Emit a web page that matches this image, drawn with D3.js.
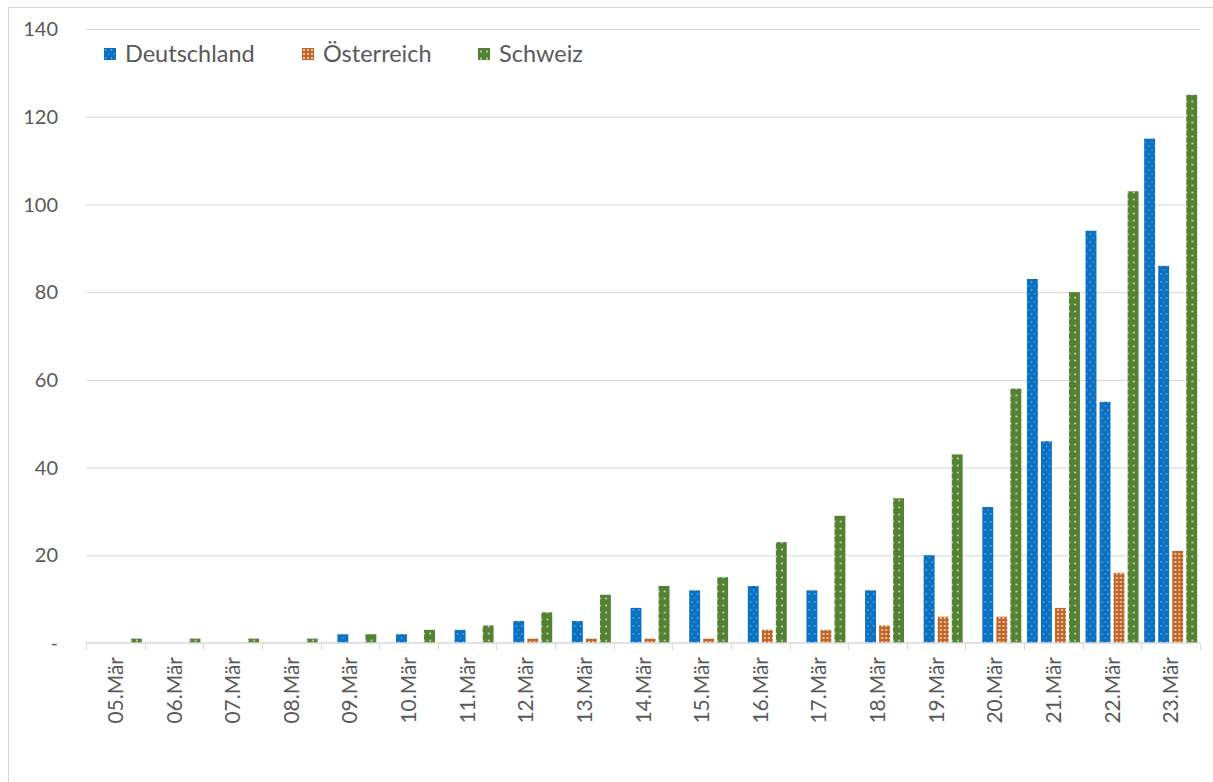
<!DOCTYPE html>
<html>
  <head>
    <meta charset="utf-8" />
    <title>Fälle nach Tag</title>
    <script src="https://d3js.org/d3.v7.min.js"></script>
    <style>
      body { margin: 0; background: #fff; }
      text { font-family: Lato, "Liberation Sans", sans-serif; fill: #595959; }
      .grid line { stroke: #d9d9d9; }
    </style>
  </head>
  <body>
    <svg id="chart" width="1213" height="782"></svg>
    <script>
      // Data
      const categories = ['05.Mär', '06.Mär', '07.Mär', '08.Mär', '09.Mär', '10.Mär', '11.Mär', '12.Mär', '13.Mär', '14.Mär',
                          '15.Mär', '16.Mär', '17.Mär', '18.Mär', '19.Mär', '20.Mär', '21.Mär', '22.Mär', '23.Mär'];
      const seriesNames = ['', 'Deutschland', 'Österreich', 'Schweiz'];
      // first series has no legend entry, only values for the last days
      const extra = [null, null, null, null, null, null, null, null, null, null, null, null, null, null, null, null, 83, 94, 115];
      const deutschland = [0, 0, 0, 0, 2, 2, 3, 5, 5, 8, 12, 13, 12, 12, 20, 31, 46, 55, 86];
      const oesterreich = [0, 0, 0, 0, 0, 0, 0, 1, 1, 1, 1, 3, 3, 4, 6, 6, 8, 16, 21];
      const schweiz = [1, 1, 1, 1, 2, 3, 4, 7, 11, 13, 15, 23, 29, 33, 43, 58, 80, 103, 125];
      const yTicks = [0, 20, 40, 60, 80, 100, 120, 140];

      const values = [extra, deutschland, oesterreich, schweiz];
      const patterns = ['pBlue', 'pBlue', 'pOrange', 'pGreen'];

      const width = 1213, height = 782;
      const margin = { top: 29, right: 13, bottom: 139, left: 86 };

      const svg = d3.select('#chart');

      // fill patterns
      const defs = svg.append('defs');
      const blue = defs.append('pattern').attr('id', 'pBlue').attr('patternUnits', 'userSpaceOnUse')
        .attr('width', 6).attr('height', 8);
      blue.append('rect').attr('width', 6).attr('height', 8).attr('fill', '#0a70c2');
      blue.append('circle').attr('cx', 1.5).attr('cy', 2).attr('r', 0.8).attr('fill', '#8cc8f0');
      blue.append('circle').attr('cx', 4.5).attr('cy', 6).attr('r', 0.8).attr('fill', '#5aaae6');

      const orange = defs.append('pattern').attr('id', 'pOrange').attr('patternUnits', 'userSpaceOnUse')
        .attr('width', 4).attr('height', 4);
      orange.append('rect').attr('width', 4).attr('height', 4).attr('fill', '#c0662a');
      orange.append('rect').attr('x', 1).attr('y', 1).attr('width', 2).attr('height', 2).attr('fill', '#efc39a');

      const green = defs.append('pattern').attr('id', 'pGreen').attr('patternUnits', 'userSpaceOnUse')
        .attr('width', 6).attr('height', 7);
      green.append('rect').attr('width', 6).attr('height', 7).attr('fill', '#548235');
      green.append('circle').attr('cx', 3).attr('cy', 3.5).attr('r', 0.9).attr('fill', '#d6ecc6');

      // outer chart border (right and bottom run off the picture)
      svg.append('rect')
        .attr('x', 8.5).attr('y', 7.5).attr('width', 1230).attr('height', 800)
        .attr('fill', 'none').attr('stroke', '#d9d9d9');

      // scales
      const x0 = d3.scaleBand()
        .domain(categories)
        .range([margin.left, width - margin.right])
        .paddingInner(0).paddingOuter(0);

      const x1 = d3.scaleBand()
        .domain(d3.range(seriesNames.length))
        .range([0, x0.bandwidth()])
        .paddingInner(0.22).paddingOuter(0.2);

      const y = d3.scaleLinear()
        .domain([0, 140])
        .range([height - margin.bottom, margin.top]);

      // gridlines
      svg.append('g').attr('class', 'grid')
        .attr('transform', `translate(${margin.left},0)`)
        .call(d3.axisLeft(y).tickValues(yTicks.slice(1)).tickSize(-(width - margin.left - margin.right)).tickFormat(''))
        .call(g => g.select('.domain').remove());

      // y labels
      svg.append('g')
        .selectAll('text')
        .data(yTicks)
        .join('text')
          .attr('x', 58)
          .attr('y', d => y(d))
          .attr('dy', '0.36em')
          .attr('text-anchor', 'end')
          .style('font-size', '20px')
          .text(d => d === 0 ? '-' : d);

      // bars
      const groups = svg.append('g')
        .selectAll('g')
        .data(categories)
        .join('g')
          .attr('transform', d => `translate(${x0(d)},0)`);

      groups.selectAll('rect')
        .data((c, i) => values.map((v, s) => ({ s, v: v[i] })).filter(d => d.v != null && d.v > 0))
        .join('rect')
          .attr('x', d => x1(d.s))
          .attr('y', d => y(d.v))
          .attr('width', x1.bandwidth())
          .attr('height', d => y(0) - y(d.v))
          .attr('fill', d => `url(#${patterns[d.s]})`);

      // x axis
      const xAxis = svg.append('g')
        .attr('transform', `translate(0,${y(0)})`);
      xAxis.append('line')
        .attr('x1', margin.left).attr('x2', width - margin.right)
        .attr('stroke', '#d9d9d9').attr('stroke-width', 1.5);
      const bounds = categories.map(c => x0(c)).concat([x0(categories[categories.length - 1]) + x0.bandwidth()]);
      xAxis.selectAll('line.tick')
        .data(bounds)
        .join('line')
          .attr('class', 'tick')
          .attr('x1', d => Math.round(d) + 0.5).attr('x2', d => Math.round(d) + 0.5)
          .attr('y1', 0).attr('y2', 7)
          .attr('stroke', '#d9d9d9');
      xAxis.selectAll('text')
        .data(categories)
        .join('text')
          .attr('transform', d => `translate(${x0(d) + x0.bandwidth() / 2},14) rotate(-90)`)
          .attr('dy', '0.36em')
          .attr('text-anchor', 'end')
          .style('font-size', '21px')
          .text(d => d);

      // legend (the first series has no entry)
      const legendItems = [
        { s: 1, x: 104 },
        { s: 2, x: 302 },
        { s: 3, x: 478 }
      ];
      const legend = svg.append('g').selectAll('g')
        .data(legendItems)
        .join('g')
          .attr('transform', d => `translate(${d.x},48)`);
      legend.append('rect')
        .attr('width', 12).attr('height', 12)
        .attr('fill', d => `url(#${patterns[d.s]})`);
      legend.append('text')
        .attr('x', 21).attr('y', 6).attr('dy', '0.36em')
        .style('font-size', '23.5px')
        .text(d => seriesNames[d.s]);
    </script>
  </body>
</html>
